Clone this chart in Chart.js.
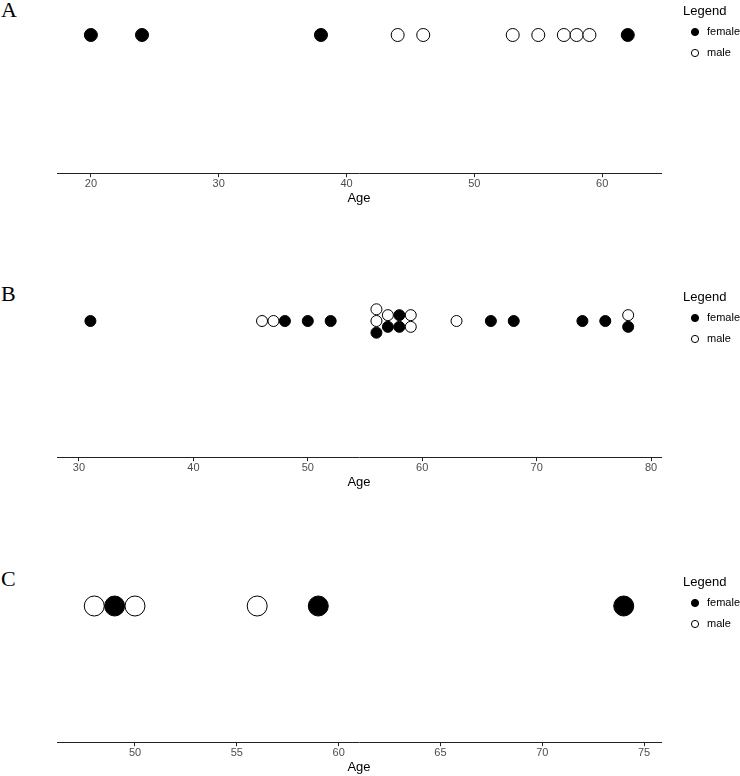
<!DOCTYPE html>
<html>
<head>
<meta charset="utf-8">
<script src="https://cdn.jsdelivr.net/npm/chart.js@4.4.1/dist/chart.umd.min.js"></script>
<style>
    body { margin: 0; background: #fff; }
    .panel { position: absolute; left: 0; width: 740px; }
    .tag { position: absolute; left: 1px; font: 22px 'Liberation Serif', 'Times New Roman', serif; line-height: 22px; color: #000; }
</style>
</head>
<body>
<div class="tag" style="top:-1px">A</div>
<div class="tag" style="top:283px">B</div>
<div class="tag" style="top:568px">C</div>
<div class="panel" style="top:0px;height:206px"><canvas id="panel-a"></canvas></div>
<div class="panel" style="top:240px;height:250px"><canvas id="panel-b"></canvas></div>
<div class="panel" style="top:520px;height:255px"><canvas id="panel-c"></canvas></div>
<script>
// Daten (Alter je Gruppe)
const femaleA = [20, 24, 38, 62];
const maleA = [44, 46, 53, 55, 57, 58, 59];
const ticksA = [20, 30, 40, 50, 60];

const femaleB = [31, 48, 50, 52, 56, 57, 58, 58, 66, 68, 74, 76, 78];
const maleB = [46, 47, 56, 56, 57, 59, 59, 63, 78];
const ticksB = [30, 40, 50, 60, 70, 80];

const femaleC = [49, 59, 74];
const maleC = [48, 50, 56];
const ticksC = [50, 55, 60, 65, 70, 75];

Chart.defaults.font.family = "'Liberation Sans', Arial, sans-serif";

// gleiche Alter werden zentriert gestapelt, female unten
function stackDots(female, male, step) {
    const total = {};
    const used = {};
    female.concat(male).forEach(a => total[a] = (total[a] || 0) + 1);
    const place = a => {
        const i = used[a] || 0;
        used[a] = i + 1;
        return { x: a, y: (i - (total[a] - 1) / 2) * step };
    };
    return [female.map(place), male.map(place)];
}

// Legende rechts neben dem Panel
const sideLegend = {
    id: 'sideLegend',
    afterDraw(chart) {
        const { ctx, chartArea: { right }, scales: { y } } = chart;
        const y0 = y.getPixelForValue(0);
        ctx.save();
        ctx.textBaseline = 'middle';
        ctx.textAlign = 'left';
        ctx.fillStyle = '#000';
        ctx.font = "13px 'Liberation Sans'";
        ctx.fillText('Legend', right + 22, y0 - 23.5);
        ctx.font = "11px 'Liberation Sans'";
        chart.data.datasets.forEach((ds, i) => {
            const cy = y0 - 3 + i * 21;
            ctx.beginPath();
            ctx.arc(right + 34, cy, 3.6, 0, Math.PI * 2);
            ctx.fillStyle = ds.pointBackgroundColor;
            ctx.fill();
            ctx.lineWidth = 1;
            ctx.strokeStyle = ds.pointBorderColor;
            ctx.stroke();
            ctx.fillStyle = '#000';
            ctx.fillText(ds.label, right + 46, cy);
        });
        ctx.restore();
    }
};

function makePanel(id, female, male, tickValues, xMin, xMax, yMin, yMax, radius, step) {
    const [fData, mData] = stackDots(female, male, step);
    new Chart(document.getElementById(id), {
        type: 'scatter',
        data: {
            datasets: [{
                label: 'female',
                data: fData,
                pointRadius: radius,
                pointHoverRadius: radius,
                pointBorderWidth: 1,
                pointBackgroundColor: '#000000',
                pointBorderColor: '#000000'
            }, {
                label: 'male',
                data: mData,
                pointRadius: radius,
                pointHoverRadius: radius,
                pointBorderWidth: 1,
                pointBackgroundColor: '#ffffff',
                pointBorderColor: '#000000'
            }]
        },
        options: {
            responsive: true,
            maintainAspectRatio: false,
            animation: false,
            events: [],
            layout: { autoPadding: false, padding: { left: 57, right: 79, top: 0, bottom: 0 } },
            plugins: {
                legend: { display: false },
                tooltip: { enabled: false }
            },
            scales: {
                x: {
                    type: 'linear',
                    min: xMin,
                    max: xMax,
                    afterBuildTicks: scale => {
                        scale.ticks = tickValues.map(v => ({ value: v }));
                    },
                    ticks: {
                        color: '#4d4d4d',
                        padding: 0,
                        maxRotation: 0,
                        font: { size: 11 }
                    },
                    grid: {
                        drawOnChartArea: false,
                        drawTicks: true,
                        tickLength: 4,
                        color: '#222'
                    },
                    border: { display: true, color: '#222', width: 1 },
                    title: {
                        display: true,
                        text: 'Age',
                        color: '#000',
                        padding: { top: 0, bottom: 0 },
                        font: { size: 13 }
                    }
                },
                y: {
                    display: false,
                    min: yMin,
                    max: yMax
                }
            }
        },
        plugins: [sideLegend]
    });
}

makePanel('panel-a', femaleA, maleA, ticksA, 17.35, 64.6, -138.2, 35, 6.5, 11.7);
makePanel('panel-b', femaleB, maleB, ticksB, 28.08, 80.87, -136.2, 81, 5.5, 11.7);
makePanel('panel-c', femaleC, maleC, ticksC, 46.17, 75.83, -136.2, 86, 10, 11.7);
</script>
</body>
</html>
